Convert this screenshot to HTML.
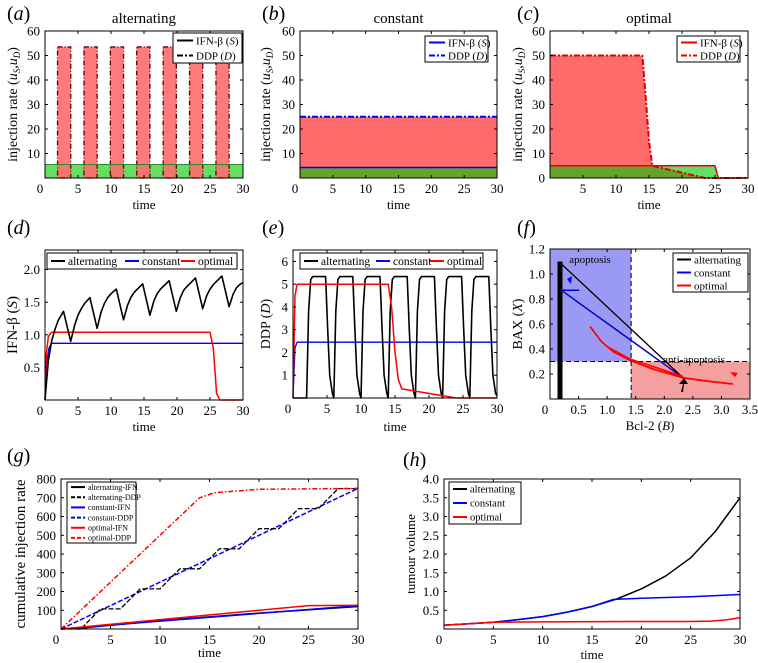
<!DOCTYPE html>
<html><head><meta charset="utf-8"><style>
body{margin:0;background:#fff}
svg{display:block;font-family:"Liberation Serif",serif}
</style></head><body>
<svg id="fig" width="758" height="663" viewBox="0 0 758 663"></svg>
<script>
// ---------- data ----------
const timeTicks = [0,5,10,15,20,25,30];
// (a) alternating
const altPulseStart = [1.9,5.9,9.9,13.9,17.9,21.9,25.9];
const altPulseEnd = [3.9,7.9,11.9,15.9,19.9,23.9,27.9];
const altDDPLevel = 53.5;
const altIFNLevel = 5.5;
// (b) constant
const constDDPLevel = 25;
const constIFNLevel = 4.3;
// (c) optimal
const optIFN_t = [0,25,25.5,30];
const optIFN_v = [5,5,0,0];
const optDDP_t = [0,14,14.5,15,15.5,23.5,30];
const optDDP_v = [50,50,33,15,5,0,0];
// (d) IFN-beta
const dAlt_t = [0,0.5,1,1.5,2,2.8,3.9,4.5,5,5.5,6,6.8,7.9,8.5,9,9.5,10,10.8,11.9,12.5,13,13.5,14,14.8,15.9,16.5,17,17.5,18,18.8,19.9,20.5,21,21.5,22,22.8,23.9,24.5,25,25.5,26,26.8,27.9,28.5,29,29.5,30];
const dAlt_v = [0,0.6,0.9,1.08,1.22,1.36,0.9,1.15,1.3,1.4,1.48,1.57,1.1,1.35,1.48,1.57,1.63,1.7,1.23,1.45,1.57,1.65,1.7,1.78,1.3,1.52,1.63,1.7,1.75,1.83,1.36,1.57,1.68,1.74,1.79,1.87,1.4,1.6,1.7,1.77,1.82,1.9,1.43,1.62,1.72,1.77,1.8];
const dConst_t = [0,0.3,0.6,1,30];
const dConst_v = [0,0.6,0.8,0.87,0.87];
const dOpt_t = [0,0.2,0.5,1,25,25.5,26,26.5,30];
const dOpt_v = [0,0.7,0.97,1.04,1.04,0.8,0.1,0,0];
// (e) DDP
const eAlt_t = [0,2,2.3,2.6,2.9,4.8,5.1,5.4,5.8,6,6.3,6.6,6.9,8.8,9.1,9.4,9.8,10,10.3,10.6,10.9,12.8,13.1,13.4,13.8,14,14.3,14.6,14.9,16.8,17.1,17.4,17.8,18,18.3,18.6,18.9,20.8,21.1,21.4,21.8,22,22.3,22.6,22.9,24.8,25.1,25.4,25.8,26,26.3,26.6,26.9,28.8,29.1,29.4,29.8,30];
const eAlt_v = [0,0,3.8,5.2,5.33,5.33,3,1,0.2,0,3.8,5.2,5.33,5.33,3,1,0.2,0,3.8,5.2,5.33,5.33,3,1,0.2,0,3.8,5.2,5.33,5.33,3,1,0.2,0,3.8,5.2,5.33,5.33,3,1,0.2,0,3.8,5.2,5.33,5.33,3,1,0.2,0,3.8,5.2,5.33,5.33,3,1,0.2,0.1];
const eConst_t = [0,0.3,0.6,30];
const eConst_v = [0,2.2,2.45,2.45];
const eOpt_t = [0,0.3,0.6,14,14.5,15,15.5,16,24,30];
const eOpt_v = [0,4.5,5,5,4,2,0.8,0.4,0,0];
// (f) phase plane
const fAltBar_x = [0.175,0.175];
const fAltBar_y = [0,1.1];
const fAlt_x = [0.2,2.33];
const fAlt_y = [1.08,0.17];
const fConst_x = [0.2,0.5,0.2,2.33];
const fConst_y = [0.87,0.87,0.87,0.17];
const fOpt_x = [0.7,0.9,1.1,1.4,1.8,2.33,2.8,3.2];
const fOpt_y = [0.58,0.46,0.38,0.31,0.24,0.17,0.14,0.12];
const fOpt2_x = [1.0,1.4,1.8,2.33];
const fOpt2_y = [0.42,0.32,0.26,0.18];
const apoptosisBoundaryB = 1.42;
const apoptosisBoundaryX = 0.3;
// (g) cumulative
const gAltIFN_t = [0,2,10,20,30];
const gAltIFN_v = [0,5,45,85,120];
const gAltDDP_t = [0,2,4,6,8,10,12,14,16,18,20,22,24,26,28,30];
const gAltDDP_v = [0,0,107,107,214,214,321,321,428,428,535,535,642,642,749,749];
const gConstIFN_t = [0,30];
const gConstIFN_v = [0,125];
const gConstDDP_t = [0,30];
const gConstDDP_v = [0,750];
const gOptIFN_t = [0,25,30];
const gOptIFN_v = [0,125,127];
const gOptDDP_t = [0,14,15.5,20,30];
const gOptDDP_v = [0,700,727,745,750];
// (h) tumour volume
const hAlt_t = [0,2.5,5,7.5,10,12.5,15,17.5,20,22.5,25,27.5,30];
const hAlt_v = [0.1,0.14,0.18,0.25,0.33,0.45,0.6,0.8,1.07,1.42,1.9,2.6,3.5];
const hConst_t = [0,2.5,5,7.5,10,12.5,15,17.2,20,25,30];
const hConst_v = [0.1,0.14,0.18,0.25,0.33,0.45,0.6,0.79,0.82,0.86,0.92];
const hOpt_t = [0,5,10,20,25,27,28.5,30];
const hOpt_v = [0.1,0.18,0.19,0.2,0.2,0.21,0.24,0.3];

// ---------- helpers ----------
const NS='http://www.w3.org/2000/svg';
const svg=document.getElementById('fig');
function mk(tag,attrs,parent,text){const e=document.createElementNS(NS,tag);for(const k in attrs)e.setAttribute(k,attrs[k]);if(text!==undefined)e.textContent=text;(parent||svg).appendChild(e);return e;}
function scale(d0,d1,p0,p1){return v=>p0+(v-d0)/(d1-d0)*(p1-p0);}
function pts(xs,ys,sx,sy){return xs.map((x,i)=>sx(x).toFixed(1)+','+sy(ys[i]).toFixed(1)).join(' ');}

function panel(c){
  const g=mk('g',{});
  
  
  const sx=scale(c.xd[0],c.xd[1],c.x0,c.xr||c.x1), sy=scale(c.yd[0],c.yd[1],c.y1,c.y0);
  return {g,sx,sy,c};
}
function frame(P){
  const c=P.c,g=P.g;
  const f=mk('rect',{x:c.x0,y:c.y0,width:c.x1-c.x0,height:c.y1-c.y0,fill:'none',stroke:'#000','stroke-width':1},g);
  
  c.xt.forEach((v,i)=>{const x=P.sx(v);if(x>c.x1+0.5)return;
    mk('line',{x1:x,x2:x,y1:c.y1,y2:c.y1-3,stroke:'#000'},g);mk('line',{x1:x,x2:x,y1:c.y0,y2:c.y0+3,stroke:'#000'},g);});
  c.xl.forEach((t,i)=>{const x=P.sx(c.xlv[i]);const e=mk('text',{x:x+(c.xlv[i]==0?-5:0),y:c.y1+15,'font-size':13,'text-anchor':'middle'},g,t);
    });
  c.yt.forEach(v=>{const y=P.sy(v);mk('line',{x1:c.x0,x2:c.x0+3,y1:y,y2:y,stroke:'#000'},g);mk('line',{x1:c.x1,x2:c.x1-3,y1:y,y2:y,stroke:'#000'},g);});
  c.yl.forEach((t,i)=>{const e=mk('text',{x:c.x0-5,y:P.sy(c.ylv[i])+4.5,'font-size':13,'text-anchor':'end'},g,t);
    });
  if(c.xlabel){const e=mk('text',{x:(c.x0+c.x1)/2,y:c.y1+(c.xlabelDy||31),'font-size':13,'text-anchor':'middle'},g);e.innerHTML=c.xlabel;
    }
  if(c.ylabel){const cx=c.ylabelX,cy=(c.y0+c.y1)/2;const e=mk('text',{x:cx,y:cy,'font-size':c.ylabelSize||14,'text-anchor':'middle',transform:`rotate(-90 ${cx} ${cy})`},g);e.innerHTML=c.ylabel;
    }
  if(c.title){const e=mk('text',{x:(c.x0+c.x1)/2,y:c.y0-8,'font-size':15,'text-anchor':'middle'},g,c.title);
    }
  const pl=mk('text',{x:c.lx,y:c.ly,'font-size':20},g);pl.innerHTML='(<tspan font-style="italic">'+c.letter+'</tspan>)';
  
}
function line(P,xs,ys,col,w,dash,name){const e=mk('polyline',{points:pts(xs,ys,P.sx,P.sy),fill:'none',stroke:col,'stroke-width':w,'stroke-dasharray':dash||'none','stroke-linejoin':'round'},P.g);
  return e;}
function area(P,xs,ys,col,op,name){const p=pts(xs,ys,P.sx,P.sy)+' '+P.sx(xs[xs.length-1]).toFixed(1)+','+P.sy(0).toFixed(1)+' '+P.sx(xs[0]).toFixed(1)+','+P.sy(0).toFixed(1);
  const e=mk('polygon',{points:p,fill:col,'fill-opacity':op},P.g);return e;}
function legend(P,x,y,w,h,items,fs,horizontal){
  const g=mk('g',{},P.g);
  mk('rect',{x,y,width:w,height:h,fill:'#fff',stroke:'#000','stroke-width':1},g);
  items.forEach((it,i)=>{let lx,ly;
    if(horizontal){lx=x+4+it.off;ly=y+h/2;}else{lx=x+4;ly=y+(i+0.5)*h/items.length;}
    const ll=it.len||16;
    mk('line',{x1:lx,x2:lx+ll,y1:ly,y2:ly,stroke:it.c,'stroke-width':it.w||2,'stroke-dasharray':it.d||'none'},g);
    const t=mk('text',{x:lx+ll+3,y:ly+fs*0.35,'font-size':fs},g);t.innerHTML=it.t;
    });
}
const GREEN='rgb(0,200,0)',RED='#ff6b6b',GOP=0.6;
const injY=[10,20,30,40,50,60], injYL=['10','20','30','40','50','60'];
const injLabel='injection rate (<tspan font-style="italic">u</tspan><tspan font-size="9" dy="3" font-style="italic">S</tspan><tspan dy="-3">,</tspan><tspan font-style="italic">u</tspan><tspan font-size="9" dy="3" font-style="italic">D</tspan><tspan dy="-3">)</tspan>';
const tl=timeTicks.map(String);

// (a)
{const P=panel({name:'panel-a-alternating',x0:45,x1:243,y0:31,y1:178,xd:[0,30],yd:[0,60],xt:timeTicks,xl:tl,xlv:timeTicks,yt:injY,yl:injYL,ylv:injY,xlabel:'time',ylabel:injLabel,ylabelX:17,title:'alternating',letter:'a',lx:7,ly:20});
 area(P,[0,30],[altIFNLevel,altIFNLevel],GREEN,GOP,'ifn-area');
 altPulseStart.forEach((s,i)=>{const x0=P.sx(s),x1=P.sx(altPulseEnd[i]),y=P.sy(altDDPLevel);
   const r=mk('rect',{x:x0,y:y,width:x1-x0,height:P.sy(0)-y,fill:RED,'fill-opacity':0.9,stroke:'#600','stroke-width':1.3,'stroke-dasharray':'5,2,1,2'},P.g);
   });
 line(P,[0,30],[altIFNLevel,altIFNLevel],'#2a8a2a',1,'', 'ifn-line');
 frame(P);
 legend(P,173,33,69,30,[{t:'IFN-β (<tspan font-style="italic">S</tspan>)',c:'#000'},{t:'DDP (<tspan font-style="italic">D</tspan>)',c:'#000',d:'6,2,2,2'}],11);}
// (b)
{const P=panel({name:'panel-b-constant',x0:300,x1:497,y0:31,y1:178,xd:[0,30],yd:[0,60],xt:timeTicks,xl:tl,xlv:timeTicks,yt:injY,yl:injYL,ylv:injY,xlabel:'time',ylabel:injLabel,ylabelX:270,title:'constant',letter:'b',lx:262,ly:20});
 area(P,[0,30],[constDDPLevel,constDDPLevel],RED,1,'ddp-area');
 area(P,[0,30],[constIFNLevel,constIFNLevel],GREEN,GOP,'ifn-area');
 line(P,[0,30],[constDDPLevel,constDDPLevel],'#00f',2,'6,2,2,2','ddp-line');
 line(P,[0,30],[constIFNLevel,constIFNLevel],'#00f',1.5,'','ifn-line');
 frame(P);
 legend(P,425,36,63,26,[{t:'IFN-β (<tspan font-style="italic">S</tspan>)',c:'#00f'},{t:'DDP (<tspan font-style="italic">D</tspan>)',c:'#00f',d:'6,2,2,2'}],11);}
// (c)
{const yv=[0,10,20,30,40,50,60];
 const P=panel({name:'panel-c-optimal',x0:550,x1:748,y0:31,y1:178,xd:[0,30],yd:[0,60],xt:timeTicks,xl:tl.slice(1),xlv:timeTicks.slice(1),yt:yv,yl:yv.map(String),ylv:yv,xlabel:'time',ylabel:injLabel,ylabelX:522,title:'optimal',letter:'c',lx:517,ly:20});
 area(P,optDDP_t,optDDP_v,RED,1,'ddp-area');
 area(P,optIFN_t,optIFN_v,GREEN,GOP,'ifn-area');
 line(P,optDDP_t,optDDP_v,'#d00',2,'6,2,2,2','ddp-line');
 line(P,optIFN_t,optIFN_v,'#e00',1.5,'','ifn-line');
 frame(P);
 legend(P,677,36,63,26,[{t:'IFN-β (<tspan font-style="italic">S</tspan>)',c:'#e00'},{t:'DDP (<tspan font-style="italic">D</tspan>)',c:'#e00',d:'6,2,2,2'}],11);}
// (d)
{const yv=[0.5,1,1.5,2];
 const P=panel({name:'panel-d-ifn',x0:45,x1:243,y0:250,y1:400,xd:[0,30],yd:[0,2.3],xt:timeTicks,xl:tl,xlv:timeTicks,yt:yv,yl:['0.5','1.0','1.5','2.0'],ylv:yv,xlabel:'time',ylabel:'IFN-β (<tspan font-style="italic">S</tspan>)',ylabelX:17,ylabelSize:15,letter:'d',lx:7,ly:234});
 line(P,dConst_t,dConst_v,'#00f',1.3,'','constant-line');
 line(P,dOpt_t,dOpt_v,'#f00',1.5,'','optimal-line');
 line(P,dAlt_t,dAlt_v,'#000',1.6,'','alternating-line');
 frame(P);
 legend(P,47,253,190,16,[{t:'alternating',c:'#000',off:0,len:14},{t:'constant',c:'#00f',off:74,len:14},{t:'optimal',c:'#f00',off:130,len:14}],11.5,true);}
// (e)
{const yv=[1,2,3,4,5,6];
 const P=panel({name:'panel-e-ddp',x0:293,x1:497,y0:250,y1:398,xd:[0,30],yd:[0,6.5],xt:timeTicks,xl:tl,xlv:timeTicks,yt:yv,yl:yv.map(String),ylv:yv,xlabel:'time',xlabelDy:33,ylabel:'DDP (<tspan font-style="italic">D</tspan>)',ylabelX:270,letter:'e',lx:262,ly:234});
 line(P,eConst_t,eConst_v,'#00f',1.3,'','constant-line');
 line(P,eAlt_t,eAlt_v,'#000',1.6,'','alternating-line');
 line(P,eOpt_t,eOpt_v,'#f00',1.5,'','optimal-line');
 frame(P);
 legend(P,300,253,183,16,[{t:'alternating',c:'#000',off:0,len:14},{t:'constant',c:'#00f',off:72,len:14},{t:'optimal',c:'#f00',off:126,len:14}],11.5,true);}
// (f)
{const yv=[0.2,0.4,0.6,0.8,1.0,1.2];const xv=[0,0.5,1,1.5,2,2.5,3,3.5];
 const P=panel({name:'panel-f-phase',x0:550,x1:750,y0:249,y1:399,xd:[0,3.5],yd:[0,1.2],xt:xv,xl:['0','0.5','1.0','1.5','2.0','2.5','3.0','3.5'],xlv:xv,yt:yv,yl:['0.2','0.4','0.6','0.8','1.0','1.2'],ylv:yv,xlabel:'Bcl-2 (<tspan font-style="italic">B</tspan>)',ylabel:'BAX (<tspan font-style="italic">X</tspan>)',ylabelX:522,letter:'f',lx:517,ly:234});
 const bx=P.sx(apoptosisBoundaryB),by=P.sy(apoptosisBoundaryX);
 let r=mk('rect',{x:550,y:249,width:bx-550,height:by-249,fill:'#9a9af5'},P.g);
 r=mk('rect',{x:bx,y:by,width:750-bx,height:399-by,fill:'#f5a0a0'},P.g);
 mk('line',{x1:bx,x2:bx,y1:249,y2:399,stroke:'#000','stroke-dasharray':'5,3'},P.g);
 mk('line',{x1:550,x2:750,y1:by,y2:by,stroke:'#000','stroke-dasharray':'5,3'},P.g);
 let t=mk('text',{x:590,y:263,'font-size':11,'text-anchor':'middle'},P.g,'apoptosis');
 t=mk('text',{x:694,y:363,'font-size':11,'text-anchor':'middle'},P.g,'anti-apoptosis');
 line(P,fAltBar_x,fAltBar_y,'#000',5,'','alternating-oscillation');
 line(P,fAlt_x,fAlt_y,'#000',1.3,'','alternating-trajectory');
 line(P,fConst_x,fConst_y,'#00c',1.5,'','constant-trajectory');
 line(P,fOpt_x,fOpt_y,'#f00',1.8,'','optimal-trajectory');
 line(P,fOpt2_x,fOpt2_y,'#f00',1.5,'','optimal-trajectory-return');
 mk('path',{d:'M567,279 l5,-3 l-1,8 z',fill:'#00f'},P.g);
 mk('path',{d:'M735,377 l-5,-5 l8,1 z',fill:'#f00'},P.g);
 mk('path',{d:'M681,392 l2,-8 l-4,0 l5,-6 l4,6 l-4,0 l-1,8 z',fill:'#000'},P.g);
 frame(P);
 legend(P,673,253,75,39,[{t:'alternating',c:'#000',len:14},{t:'constant',c:'#00f',len:14},{t:'optimal',c:'#f00',len:14}],11);}
// (g)
{const yv=[100,200,300,400,500,600,700,800];
 const P=panel({name:'panel-g-cumulative',x0:61,x1:358,y0:479,y1:629,xd:[0,30],yd:[0,800],xt:timeTicks,xl:tl,xlv:timeTicks,yt:yv,yl:yv.map(String),ylv:yv,xlabel:'time',xlabelDy:28,ylabel:'cumulative injection rate',ylabelX:25,ylabelSize:15,letter:'g',lx:7,ly:462});
 line(P,gConstDDP_t,gConstDDP_v,'#00f',1.5,'5,2','constant-ddp-line');
 line(P,gAltDDP_t,gAltDDP_v,'#000',1.3,'5,2','alternating-ddp-line');
 line(P,gOptDDP_t,gOptDDP_v,'#f00',1.5,'5,2,1.5,2','optimal-ddp-line');
 line(P,gAltIFN_t,gAltIFN_v,'#000',1.5,'','alternating-ifn-line');
 line(P,gConstIFN_t,gConstIFN_v,'#00f',1.5,'','constant-ifn-line');
 line(P,gOptIFN_t,gOptIFN_v,'#f00',1.5,'','optimal-ifn-line');
 frame(P);
 legend(P,67,482,69,61,[{t:'alternating-IFN',c:'#000',len:14},{t:'alternating-DDP',c:'#000',d:'4,2',len:14},{t:'constant-IFN',c:'#00f',len:14},{t:'constant-DDP',c:'#00f',d:'4,2',len:14},{t:'optimal-IFN',c:'#f00',len:14},{t:'optimal-DDP',c:'#f00',d:'4,2',len:14}],8);}
// (h)
{const yv=[0.5,1,1.5,2,2.5,3,3.5,4];
 const P=panel({name:'panel-h-tumour',x0:444,x1:740,y0:479,y1:629,xd:[0,30],yd:[0,4],xt:timeTicks,xl:tl,xlv:timeTicks,yt:yv,yl:['0.5','1.0','1.5','2.0','2.5','3.0','3.5','4.0'],ylv:yv,xlabel:'time',xlabelDy:30,ylabel:'tumour volume',ylabelX:415,ylabelSize:13,letter:'h',lx:403,ly:466});
 line(P,hAlt_t,hAlt_v,'#000',1.5,'','alternating-line');
 line(P,hConst_t,hConst_v,'#00f',1.5,'','constant-line');
 line(P,hOpt_t,hOpt_v,'#f00',1.5,'','optimal-line');
 frame(P);
 legend(P,449,482,72,42,[{t:'alternating',c:'#000',len:14},{t:'constant',c:'#00f',len:14},{t:'optimal',c:'#f00',len:14}],10.5);}
</script>
</body></html>
